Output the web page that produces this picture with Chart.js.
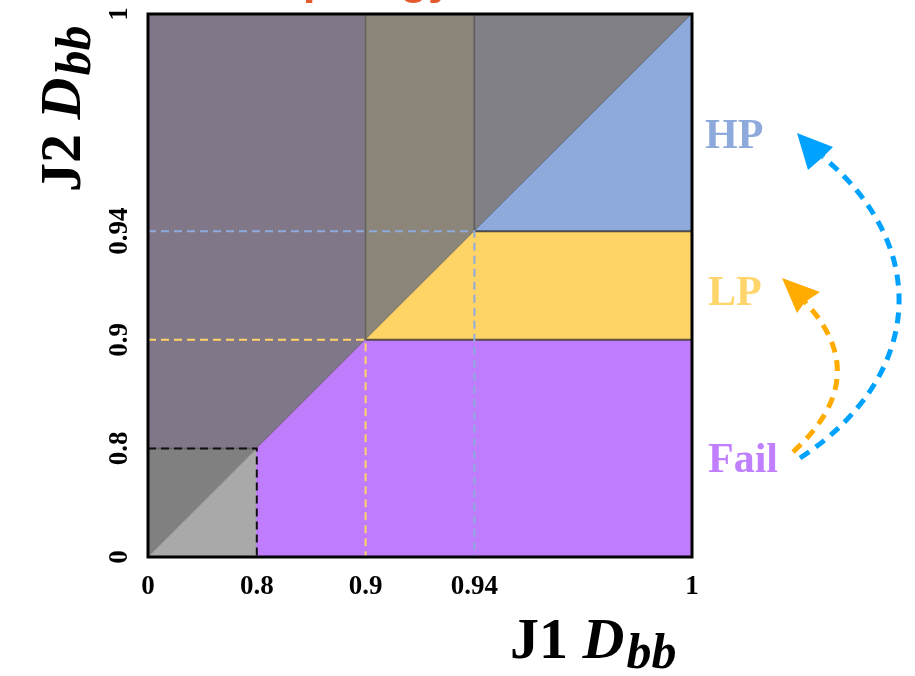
<!DOCTYPE html>
<html>
<head>
<meta charset="utf-8">
<script src="https://cdn.jsdelivr.net/npm/chart.js@4.4.1/dist/chart.umd.min.js"></script>
<style>
  html, body { margin: 0; padding: 0; background: #fff; }
</style>
</head>
<body>
<canvas id="chart" width="915" height="676"></canvas>
<script>
// ================= DATA =================
// D_bb thresholds, the slot each one takes on the (non-linear) axes, and labels
const tickValues = [0, 0.8, 0.9, 0.94, 1];
const tickSlots = [0, 1, 2, 3, 5];
const tickLabels = ["0", "0.8", "0.9", "0.94", "1"];

// regions of the (J1 D_bb, J2 D_bb) plane, corners as [J1, J2]
const failRegion = [[0.8, 0], [1, 0], [1, 0.9], [0.9, 0.9], [0.8, 0.8]];
const lpRegion = [[0.9, 0.9], [1, 0.9], [1, 0.94], [0.94, 0.94]];
const hpRegion = [[0.94, 0.94], [1, 0.94], [1, 1]];
const lowGreyRegion = [[0, 0], [0.8, 0], [0.8, 0.8]];
const highGreyRegion = [[0, 0], [0, 0.8], [0.8, 0.8]];
const bandLow = [[0, 0.8], [0, 1], [0.9, 1], [0.9, 0.9], [0.8, 0.8]];
const bandMid = [[0.9, 0.9], [0.9, 1], [0.94, 1], [0.94, 0.94]];
const bandHigh = [[0.94, 0.94], [0.94, 1], [1, 1]];

// dashed guide levels
const guideLevels = [0.8, 0.9, 0.94];

// ================= HELPERS =================
// value -> slot on the axis (piecewise between the thresholds)
function slot(v) {
  for (let i = 1; i < tickValues.length; i++) {
    if (v <= tickValues[i]) {
      const t = (v - tickValues[i - 1]) / (tickValues[i] - tickValues[i - 1]);
      return tickSlots[i - 1] + t * (tickSlots[i] - tickSlots[i - 1]);
    }
  }
  return tickSlots[tickSlots.length - 1];
}

function toPoints(poly, close) {
  const pts = poly.map(([a, b]) => ({ x: slot(a), y: slot(b) }));
  if (close) pts.push(pts[0]);
  return pts;
}

function region(poly, color, edge) {
  return {
    data: toPoints(poly, true),
    showLine: true,
    fill: "shape",
    backgroundColor: color,
    borderColor: edge || color,
    borderWidth: edge ? 1.5 : 0.5,
    pointRadius: 0,
    order: 10,
  };
}

function guide(level, color) {
  return {
    data: toPoints([[0, level], [level, level], [level, 0]]),
    showLine: true,
    fill: false,
    borderColor: color,
    borderWidth: 2,
    borderDash: [8, 5],
    pointRadius: 0,
    order: 1,
  };
}

function edgeLine(poly) {
  return {
    data: toPoints(poly),
    showLine: true,
    fill: false,
    borderColor: "rgba(40,40,40,0.75)",
    borderWidth: 2,
    pointRadius: 0,
    order: 5,
  };
}

// ================= DECORATION =================
function drawDbb(ctx, lead, x, y) {
  ctx.textAlign = "left";
  ctx.textBaseline = "alphabetic";
  ctx.font = 'bold 58px "Liberation Serif"';
  ctx.fillText(lead, x, y);
  let w = ctx.measureText(lead).width;
  ctx.font = 'italic bold 58px "Liberation Serif"';
  ctx.fillText("D", x + w, y);
  w += ctx.measureText("D").width;
  ctx.font = 'italic bold 50px "Liberation Serif"';
  ctx.fillText("bb", x + w + 2, y + 10);
}

function dashedArrow(ctx, color, p0, c1, c2, p3, head) {
  ctx.save();
  ctx.strokeStyle = color;
  ctx.lineWidth = 5;
  ctx.setLineDash([11, 8]);
  ctx.beginPath();
  ctx.moveTo(p0[0], p0[1]);
  ctx.bezierCurveTo(c1[0], c1[1], c2[0], c2[1], p3[0], p3[1]);
  ctx.stroke();
  ctx.setLineDash([]);
  ctx.fillStyle = color;
  ctx.beginPath();
  ctx.moveTo(head[0][0], head[0][1]);
  head.slice(1).forEach((p) => ctx.lineTo(p[0], p[1]));
  ctx.closePath();
  ctx.fill();
  ctx.restore();
}

const decor = {
  id: "decor",
  afterDraw(chart) {
    const ctx = chart.ctx;
    const a = chart.chartArea;
    ctx.save();

    // frame
    ctx.strokeStyle = "#000";
    ctx.lineWidth = 3;
    ctx.strokeRect(a.left, a.top, a.right - a.left, a.bottom - a.top);

    // title, cut off by the top edge
    ctx.fillStyle = "#e2592b";
    ctx.font = 'bold 46px "Liberation Sans"';
    ctx.textAlign = "left";
    ctx.textBaseline = "alphabetic";
    ctx.fillText("Topology", 250, -7);

    // axis titles
    ctx.fillStyle = "#000";
    drawDbb(ctx, "J1 ", 510, 658);
    ctx.save();
    ctx.translate(80, 192);
    ctx.rotate(-Math.PI / 2);
    drawDbb(ctx, "J2 ", 0, 0);
    ctx.restore();

    // state labels
    ctx.font = 'bold 42px "Liberation Serif"';
    ctx.fillStyle = "#8eaadc";
    ctx.fillText("HP", 705, 148);
    ctx.fillStyle = "#ffd56c";
    ctx.fillText("LP", 708, 305);
    ctx.fillStyle = "#bf7fff";
    ctx.fillText("Fail", 708, 472);

    // transition arrows
    dashedArrow(ctx, "#00a2ff", [800, 458], [920, 380], [935, 250], [823, 157],
      [[797, 133], [833, 147], [823, 157], [808, 170]]);
    dashedArrow(ctx, "#ffab00", [793, 452], [850, 400], [850, 350], [805, 302],
      [[782, 278], [820, 292], [805, 302], [797, 313]]);

    ctx.restore();
  },
};

// ================= CHART =================
const tickFont = { family: "Liberation Serif", size: 27, weight: "bold" };

function noPad(s) {
  s.paddingTop = 0;
  s.paddingBottom = 0;
  s.paddingLeft = 0;
  s.paddingRight = 0;
}

new Chart(document.getElementById("chart"), {
  type: "scatter",
  data: {
    datasets: [
      guide(guideLevels[0], "#111111"),
      guide(guideLevels[1], "#ffd467"),
      guide(guideLevels[2], "#8eaadc"),
      edgeLine([[0.9, 0.9], [1, 0.9]]),
      edgeLine([[0.94, 0.94], [1, 0.94]]),
      region(hpRegion, "#8eaadc"),
      region(lpRegion, "#ffd467"),
      region(failRegion, "#bf7cfd"),
      region(bandHigh, "#808086", "rgba(90,90,95,0.9)"),
      region(bandMid, "#8b8679", "rgba(100,98,90,0.9)"),
      region(bandLow, "#807889", "rgba(100,95,108,0.9)"),
      region(highGreyRegion, "#808080"),
      region(lowGreyRegion, "#a9a9a9"),
    ],
  },
  options: {
    responsive: false,
    animation: false,
    layout: { padding: { left: 0, top: 14, right: 223, bottom: 0 } },
    plugins: { legend: { display: false }, tooltip: { enabled: false } },
    scales: {
      x: {
        type: "linear",
        min: 0,
        max: 5,
        afterBuildTicks: (s) => { s.ticks = tickSlots.map((v) => ({ value: v })); },
        afterFit: (s) => { s.height = 119; noPad(s); },
        grid: { display: false },
        border: { display: false },
        ticks: {
          padding: 6,
          color: "#000",
          font: tickFont,
          maxRotation: 0,
          callback: (v) => tickLabels[tickSlots.indexOf(v)],
        },
      },
      y: {
        type: "linear",
        min: 0,
        max: 5,
        afterBuildTicks: (s) => { s.ticks = tickSlots.map((v) => ({ value: v })); },
        afterFit: (s) => { s.width = 148; noPad(s); },
        grid: { display: false },
        border: { display: false },
        ticks: {
          padding: -4,
          color: "#000",
          font: tickFont,
          minRotation: 90,
          maxRotation: 90,
          crossAlign: "center",
          callback: (v) => tickLabels[tickSlots.indexOf(v)],
        },
      },
    },
  },
  plugins: [decor],
});
</script>
</body>
</html>
